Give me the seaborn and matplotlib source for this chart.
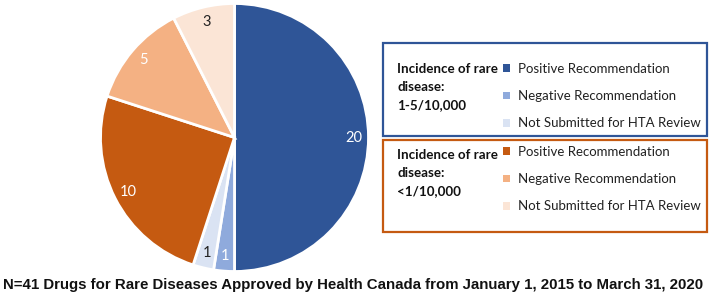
import numpy as np
import seaborn as sns
import matplotlib.pyplot as plt
from matplotlib.patches import Rectangle

sns.set_style("white")
plt.rcParams['font.family'] = ['Lato', 'DejaVu Sans']

# slices, clockwise from 12 o'clock
counts = [20, 1, 1, 10, 5, 3]
slice_colors = ["#2F5597", "#8FAADC", "#DAE3F3", "#C55A11", "#F4B183", "#FBE5D6"]
label_colors = ["white", "white", "#222222", "white", "white", "#222222"]
item_labels = ["Positive Recommendation", "Negative Recommendation", "Not Submitted for HTA Review"]
group_titles = ["Incidence of rare\ndisease:\n1-5/10,000", "Incidence of rare\ndisease:\n<1/10,000"]
group_edges = ["#2F5597", "#C55A11"]
caption = "N=41 Drugs for Rare Diseases Approved by Health Canada from January 1, 2015 to March 31, 2020"

W, H = 709, 301
fig = plt.figure(figsize=(W / 100, H / 100), dpi=100)

def fx(x):
    return x / W

def fy(y):
    return 1 - y / H

ax = fig.add_axes([fx(100.5), fy(271.5), 268 / W, 268 / H])
wedges, texts = ax.pie(counts, labels=[str(c) for c in counts], colors=slice_colors,
                       startangle=90, counterclock=False, labeldistance=0.89,
                       wedgeprops=dict(edgecolor="white", linewidth=2),
                       textprops=dict(fontsize=10.5, ha="center", va="center"))
for t, c in zip(texts, label_colors):
    t.set_color(c)
    t.set_ha("center")
ax.set_xlim(-1, 1)
ax.set_ylim(-1, 1)
ax.set_aspect("equal")

# two framed legend groups
boxes = [(383, 43, 707, 136), (383, 140, 707, 232)]
title_y = [71, 157]
leg_y = [(69, 97, 125), (152, 179, 207)]
for g in range(2):
    x0, y0, x1, y1 = boxes[g]
    fig.patches.append(Rectangle((fx(x0), fy(y1)), (x1 - x0) / W, (y1 - y0) / H,
                                 transform=fig.transFigure, fill=False,
                                 edgecolor=group_edges[g], linewidth=1.6))
    fig.text(fx(397), fy(title_y[g] - 8), group_titles[g], fontsize=9.6, fontweight="bold",
             ha="left", va="top", linespacing=1.6, color="#111111")
    handles = wedges[g * 3:g * 3 + 3]
    leg = fig.legend(handles, item_labels, loc="upper left",
                     bbox_to_anchor=(fx(503), fy(leg_y[g][0] - 6)),
                     frameon=False, fontsize=9.5, handlelength=0.55, handleheight=0.55,
                     handletextpad=0.6, labelspacing=1.15, borderaxespad=0, borderpad=0)
    for h in leg.legend_handles:
        h.set_edgecolor("none")
    for t in leg.get_texts():
        t.set_color("#222222")

fig.text(fx(3), fy(285), caption, fontsize=10.8, fontweight="bold",
         family=["Liberation Sans", "DejaVu Sans"], ha="left", va="center", color="#111111")

fig.savefig("out.png", dpi=100)
